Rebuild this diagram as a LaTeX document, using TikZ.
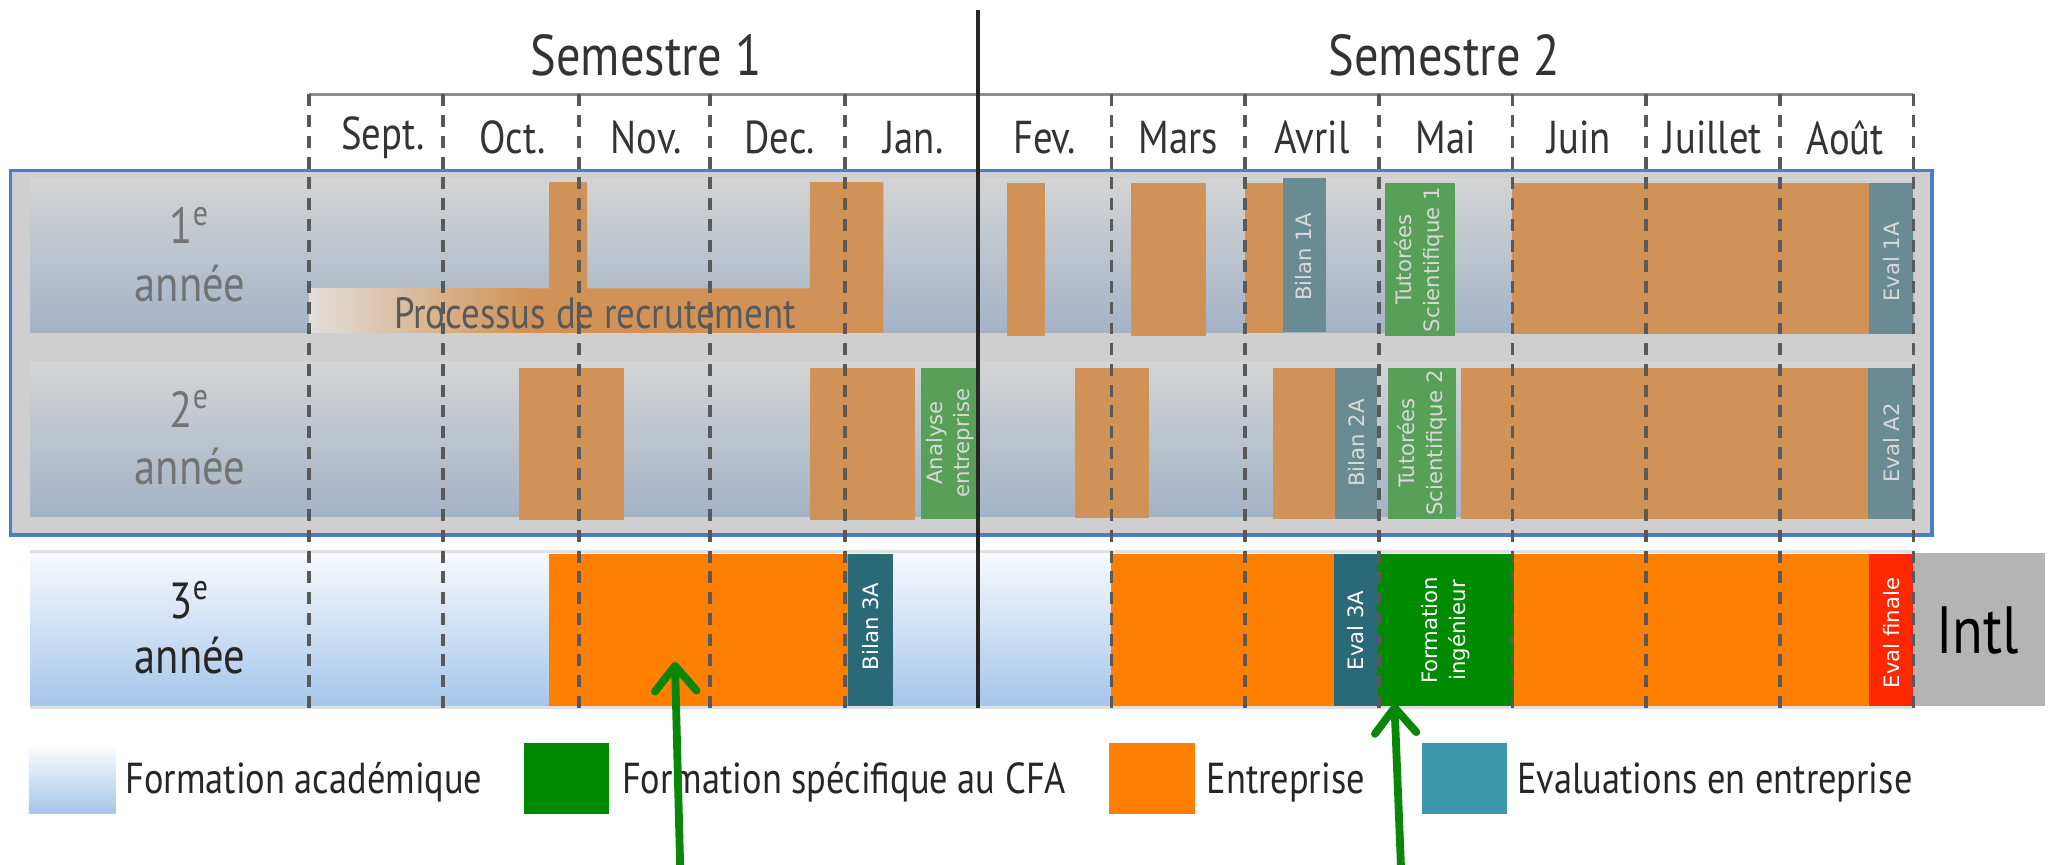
\documentclass[tikz,border=0pt]{standalone}
\usepackage{fontspec}
\setmainfont{PT Sans}
\newfontfamily\condfont{PT Sans}[FakeStretch=0.84]
\newfontfamily\barfont{DejaVu Sans}
\usetikzlibrary{arrows.meta}

\definecolor{entA}{RGB}{208,146,86}
\definecolor{evalA}{RGB}{106,139,148}
\definecolor{cfaA}{RGB}{88,160,88}
\definecolor{fadeA}{RGB}{226,222,218}
\definecolor{entB}{RGB}{255,127,0}
\definecolor{evalB}{RGB}{42,106,120}
\definecolor{cfaB}{RGB}{0,138,0}
\definecolor{finB}{RGB}{255,40,0}
\definecolor{intl}{RGB}{180,180,180}
\definecolor{boxbg}{RGB}{207,207,207}
\definecolor{boxline}{RGB}{74,126,200}
\definecolor{bandtop}{RGB}{212,212,212}
\definecolor{bandbot}{RGB}{163,179,199}
\definecolor{acadtop}{RGB}{248,250,253}
\definecolor{acadbot}{RGB}{165,197,234}
\definecolor{legeval}{RGB}{60,151,171}
\definecolor{arrowgreen}{RGB}{10,135,10}

\begin{document}
\begin{tikzpicture}[x=0.01cm, y=-0.01cm]
    \useasboundingbox (0,0) rectangle (1568,660);

    \tikzset{
        semester/.style={text=black!80, font=\condfont\fontsize{12.5}{14}\selectfont},
        month/.style={text=black!80, font=\condfont\fontsize{10}{12}\selectfont},
        year/.style={text=black!55, font=\condfont\fontsize{11}{13}\selectfont},
        processus/.style={text=black!65, font=\condfont\fontsize{9.5}{11}\selectfont},
        barlabel/.style={rotate=90, align=center, text=white!85!black,
            font=\barfont\fontsize{4.6}{6}\selectfont},
        grid/.style={black!65, line width=0.8pt, dash pattern=on 2.6pt off 1.9pt},
        legend/.style={anchor=west, inner sep=0pt, text=black!85,
            font=\condfont\fontsize{9.4}{11}\selectfont}
    }

    \node[semester] (sem1) at (493,42)  {Semestre 1};
    \node[semester] (sem2) at (1102,42) {Semestre 2};
    \draw[black!45, line width=0.8pt] (236,72) -- (1460,72);

    \node[month] (sep) at (292,105)  {Sept.};
    \node[month] (oct) at (391,105)  {Oct.};
    \node[month] (nov) at (493,105)  {Nov.};
    \node[month] (dec) at (595,105)  {Dec.};
    \node[month] (jan) at (697,105)  {Jan.};
    \node[month] (fev) at (797,105)  {Fev.};
    \node[month] (mar) at (899,105)  {Mars};
    \node[month] (avr) at (1001,105) {Avril};
    \node[month] (mai) at (1103,105) {Mai};
    \node[month] (jun) at (1205,105) {Juin};
    \node[month] (jul) at (1307,105) {Juillet};
    \node[month] (aou) at (1408,105) {Août};

    \filldraw[fill=boxbg, draw=boxline, line width=0.8pt] (8,130) rectangle (1474,408);
    \shade[top color=bandtop, bottom color=bandbot] (23,136) rectangle (1460,254);
    \shade[top color=bandtop, bottom color=bandbot] (23,276) rectangle (1460,394);
    \shade[top color=acadtop, bottom color=acadbot] (23,422) rectangle (1460,539);
    \draw[black!12, line width=0.6pt] (23,421) -- (1460,421);
    \draw[black!12, line width=0.6pt] (23,540) -- (1460,540);

    \node[year] (num1)  at (145,172) {1\textsuperscript{e}};
    \node[year] (word1) at (145,216) {année};
    \node[year] (num2)  at (145,312) {2\textsuperscript{e}};
    \node[year] (word2) at (145,356) {année};
    \tikzset{year/.append style={text=black!85}}
    \node[year] (num3)  at (145,458) {3\textsuperscript{e}};
    \node[year] (word3) at (145,500) {année};

    \fill[entA] (236,220) -- (419,220) -- (419,139) -- (448,139) -- (448,220) -- (618,220)
        -- (618,139) -- (674,139) -- (674,254) -- (236,254) -- cycle;
    \shade[left color=fadeA, right color=entA] (236,220) rectangle (405,254);
    \node[processus] (recrut) at (454,239) {Processus de recrutement};
    \fill[entA] (768,140) rectangle (797,256);
    \fill[entA] (863,140) rectangle (920,256);
    \fill[entA] (950,140) rectangle (980,254);
    \fill[evalA] (979,136) rectangle (1012,253);
    \fill[cfaA] (1057,140) rectangle (1110,256);
    \fill[entA] (1154,140) rectangle (1426,255);
    \fill[evalA] (1426,140) rectangle (1460,255);
    \node[barlabel] (bil1) at (995,196)  {Bilan 1A};
    \node[barlabel] (tut1) at (1083,198) {Tutorées\\Scientifique 1};
    \node[barlabel] (eva1) at (1443,200) {Eval 1A};

    \fill[entA] (396,281) rectangle (476,397);
    \fill[entA] (618,281) rectangle (698,397);
    \fill[cfaA] (703,281) rectangle (747,396);
    \fill[entA] (820,281) rectangle (877,395);
    \fill[entA] (971,281) rectangle (1019,396);
    \fill[evalA] (1019,281) rectangle (1051,396);
    \fill[cfaA] (1059,281) rectangle (1111,396);
    \fill[entA] (1115,281) rectangle (1425,396);
    \fill[evalA] (1425,281) rectangle (1460,396);
    \node[barlabel] (ana2) at (725,338)  {Analyse\\entreprise};
    \node[barlabel] (bil2) at (1035,338) {Bilan 2A};
    \node[barlabel] (tut2) at (1085,338) {Tutorées\\Scientifique 2};
    \node[barlabel] (eva2) at (1443,338) {Eval A2};

    \fill[entB] (419,423) rectangle (647,539);
    \fill[evalB] (647,423) rectangle (681,539);
    \fill[entB] (848,423) rectangle (1018,539);
    \fill[evalB] (1018,423) rectangle (1051,539);
    \fill[cfaB] (1051,423) rectangle (1155,539);
    \fill[entB] (1155,423) rectangle (1426,539);
    \fill[finB] (1426,423) rectangle (1460,539);
    \fill[intl] (1460,422) rectangle (1560,539);
    \tikzset{barlabel/.append style={text=white}}
    \node[barlabel] (bil3) at (664,478)  {Bilan 3A};
    \node[barlabel] (eva3) at (1034,481) {Eval 3A};
    \node[barlabel] (form) at (1103,481) {Formation\\ingénieur};
    \node[barlabel] (fin3) at (1443,483) {Eval finale};
    \node[text=black, font=\condfont\fontsize{14.5}{16}\selectfont] (intl) at (1509,481) {Intl};

    \draw[grid] (236,72) -- (236,540);
    \draw[grid] (338,72) -- (338,540);
    \draw[grid] (442,72) -- (442,540);
    \draw[grid] (542,72) -- (542,540);
    \draw[grid] (645,72) -- (645,540);
    \draw[grid] (848,72) -- (848,540);
    \draw[grid] (950,72) -- (950,540);
    \draw[grid] (1052,72) -- (1052,540);
    \draw[grid] (1154,72) -- (1154,540);
    \draw[grid] (1256,72) -- (1256,540);
    \draw[grid] (1358,72) -- (1358,540);
    \draw[grid] (1460,72) -- (1460,540);
    \draw[black!85, line width=0.9pt] (746,8) -- (746,540);

    \shade[top color=white, bottom color=acadbot] (22,567) rectangle (88,621);
    \node[legend] (leg1) at (95,597) {Formation académique};
    \fill[cfaB] (400,567) rectangle (465,621);
    \node[legend] (leg2) at (474,597) {Formation spécifique au CFA};
    \fill[entB] (846,567) rectangle (912,621);
    \node[legend] (leg3) at (920,597) {Entreprise};
    \fill[legeval] (1085,567) rectangle (1150,621);
    \node[legend] (leg4) at (1157,597) {Evaluations en entreprise};

    \coordinate (footA) at (519,662);
    \coordinate (tipA)  at (515,505);
    \coordinate (footB) at (1069,662);
    \coordinate (tipB)  at (1064,537);
    \tikzset{pointer/.style={-{Straight Barb[length=5.5pt, width=9pt, round]},
        draw=arrowgreen, line width=1.7pt}}
    \draw[pointer] (footA) -- (tipA);
    \draw[pointer] (footB) -- (tipB);

\end{tikzpicture}
\end{document}
